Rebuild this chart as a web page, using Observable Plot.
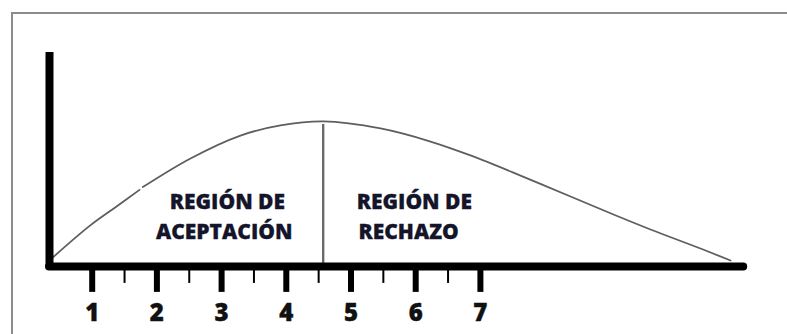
<!DOCTYPE html>
<html>
<head>
<meta charset="utf-8">
<script src="https://cdn.jsdelivr.net/npm/d3@7"></script>
<script src="https://cdn.jsdelivr.net/npm/@observablehq/plot@0.6"></script>
<style>
  html, body { margin: 0; padding: 0; background: #fff; }
  #wrap { position: relative; width: 787px; height: 334px; overflow: hidden; }
  #frame { position: absolute; left: 11px; top: 12px; width: 800px; height: 340px;
           border-left: 2px solid #8c8c8c; border-top: 2px solid #8c8c8c; }
  #chart { position: absolute; left: 0; top: 0; }
</style>
</head>
<body>
<div id="wrap"><div id="frame"></div><div id="chart"></div></div>
<script>
// Curve (two pieces, small break in the drawn line)
const curveA_x = [0.39, 0.97, 1.36, 1.731];
const curveA_y = [0.42, 1.92, 2.77, 3.58];
const curveB_x = [1.782, 2.519, 3.292, 3.91, 4.575, 5.456, 6.229, 6.847, 7.62, 8.393, 9.057, 9.629, 10.402, 10.866];
const curveB_y = [3.71, 5.05, 6.12, 6.59, 6.78, 6.45, 5.84, 5.19, 4.25, 3.27, 2.43, 1.73, 0.84, 0.28];

// Axis ticks
const majorTicks = [1, 2, 3, 4, 5, 6, 7];
const minorTicks = [1.5, 2.5, 3.5, 4.5, 5.5, 6.5];
const tickLabels = ["1", "2", "3", "4", "5", "6", "7"];

// Critical value separating the regions
const criticalX = 4.57;
const criticalTop = 6.64;

const regionLeft = ["REGIÓN DE", "ACEPTACIÓN"];
const regionRight = ["REGIÓN DE", "RECHAZO"];

const curve = [
  ...curveA_x.map((x, i) => ({x, y: curveA_y[i], s: "a"})),
  ...curveB_x.map((x, i) => ({x, y: curveB_y[i], s: "b"}))
];
const labels = majorTicks.map((v, i) => ({v, t: tickLabels[i]}));

const font = "'Open Sans', sans-serif";
const txt = {fontWeight: 800, fill: "#14142a", stroke: "#14142a", strokeWidth: 0.3, fontFamily: font, fontSize: 21};

const chart = Plot.plot({
  width: 787,
  height: 334,
  margin: 0,
  x: {domain: [0, 12], range: [27, 803.4], axis: null},
  y: {domain: [0, 10], range: [266, 52], axis: null},
  marks: [
    Plot.line(curve, {x: "x", y: "y", z: "s", curve: "catmull-rom", stroke: "#5e5e5e", strokeWidth: 1.8}),
    Plot.ruleX([criticalX], {y1: 0, y2: criticalTop, stroke: "#6a6a6a", strokeWidth: 2.4}),
    // vertical axis bar
    Plot.ruleX([0.34], {y1: 0, y2: 10, stroke: "#000", strokeWidth: 8}),
    // horizontal axis bar
    Plot.ruleY([0], {x1: 0.34, x2: 11.07, stroke: "#000", strokeWidth: 8, strokeLinecap: "round"}),
    // ticks
    Plot.ruleX(majorTicks, {y1: 0, y2: -1.21, stroke: "#000", strokeWidth: 6}),
    Plot.ruleX(minorTicks, {y1: 0, y2: -0.79, stroke: "#000", strokeWidth: 2}),
    Plot.text(labels, {x: "v", y: -2.2, text: "t", fontSize: 24, fontWeight: 800, fill: "#111", stroke: "#111", strokeWidth: 0.4, fontFamily: font}),
    Plot.text([regionLeft[0]], {x: 3.09, y: 3.01, text: d => d, ...txt}),
    Plot.text([regionLeft[1]], {x: 3.04, y: 1.61, text: d => d, ...txt}),
    Plot.text([regionRight[0]], {x: 5.98, y: 3.01, text: d => d, ...txt}),
    Plot.text([regionRight[1]], {x: 5.89, y: 1.61, text: d => d, ...txt})
  ]
});
chart.style.background = "transparent";
document.getElementById("chart").append(chart);
</script>
</body>
</html>
